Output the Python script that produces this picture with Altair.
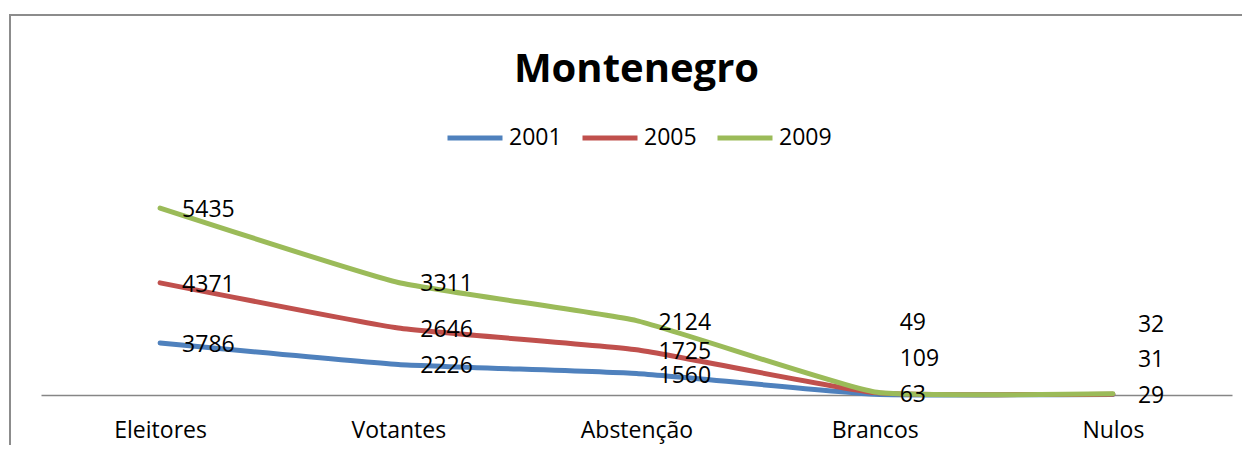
import altair as alt
import pandas as pd

categories = ["Eleitores", "Votantes", "Abstenção", "Brancos", "Nulos"]
series = ["2001", "2005", "2009"]
v2001 = [3786, 2226, 1560, 63, 29]
v2005 = [4371, 2646, 1725, 109, 31]
v2009 = [5435, 3311, 2124, 49, 32]
colors = ["#4F81BD", "#C0504D", "#9BBB59"]

rows = []
for s, vals in zip(series, [v2001, v2005, v2009]):
    for c, v in zip(categories, vals):
        rows.append({"cat": c, "serie": s, "value": v})
df = pd.DataFrame(rows)

FONT = "Open Sans"
big = ["Eleitores", "Votantes", "Abstenção"]
small = ["Brancos", "Nulos"]

base = alt.Chart(df).transform_stack(
    stack="value", groupby=["cat"], as_=["v0", "v1"],
    sort=[alt.SortField("serie", order="ascending")]
)

xenc = alt.X("cat:N", sort=categories, title=None,
             scale=alt.Scale(paddingInner=0, paddingOuter=0),
             axis=alt.Axis(labelAngle=0, ticks=False, domainColor="#868686", domainWidth=1.5,
                           labelFont=FONT, labelFontSize=23, labelColor="black",
                           labelPadding=24, grid=False))
yenc = alt.Y("v1:Q", scale=alt.Scale(domain=[0, 16000]), axis=None)

lines = base.mark_line(strokeWidth=5, interpolate="cardinal", tension=0.6, strokeCap="round").encode(
    x=xenc, y=yenc,
    color=alt.Color("serie:N", scale=alt.Scale(domain=series, range=colors),
                    legend=alt.Legend(title=None, orient="none", direction="horizontal",
                                      legendX=404, legendY=-67,
                                      symbolType="stroke", symbolSize=3025, symbolStrokeWidth=5,
                                      labelFont=FONT, labelFontSize=23, labelColor="black",
                                      labelOffset=4, columnPadding=10)),
    order=alt.Order("serie:N"),
    detail="serie:N",
)

labels_big = base.transform_filter(
    alt.FieldOneOfPredicate(field="cat", oneOf=big)
).mark_text(align="left", baseline="middle", dx=22, dy=2, font=FONT, fontSize=23, color="black").encode(
    x=alt.X("cat:N", sort=categories), y="v1:Q", text="value:Q"
)

small_dy = {"2001": 1, "2005": -34, "2009": -69}
small_layers = []
for s in series:
    small_layers.append(
        base.transform_filter(
            alt.FieldOneOfPredicate(field="cat", oneOf=small)
        ).transform_filter(alt.datum.serie == s).mark_text(
            align="left", baseline="middle", dx=25, dy=small_dy[s],
            font=FONT, fontSize=23, color="black"
        ).encode(x=alt.X("cat:N", sort=categories), y="v1:Q", text="value:Q")
    )

frame = alt.Chart(pd.DataFrame({"a": [0]})).mark_rect(
    fill=None, stroke="#8c8c8c", strokeWidth=2
).encode(x=alt.value(-31), x2=alt.value(1300), y=alt.value(-160), y2=alt.value(400))

chart = alt.layer(frame, lines, labels_big, *small_layers).properties(
    width=1191, height=220,
    title=alt.TitleParams("Montenegro", font=FONT, fontSize=40, fontWeight="bold",
                          color="black", anchor="middle", offset=-108, baseline="alphabetic"),
    autosize=alt.AutoSizeParams(type="none"),
    padding={"left": 33, "top": 167, "right": 10, "bottom": 50},
    background="white",
).configure_view(stroke=None)

chart.save("out.html", embed_options={"renderer": "svg", "actions": False})
